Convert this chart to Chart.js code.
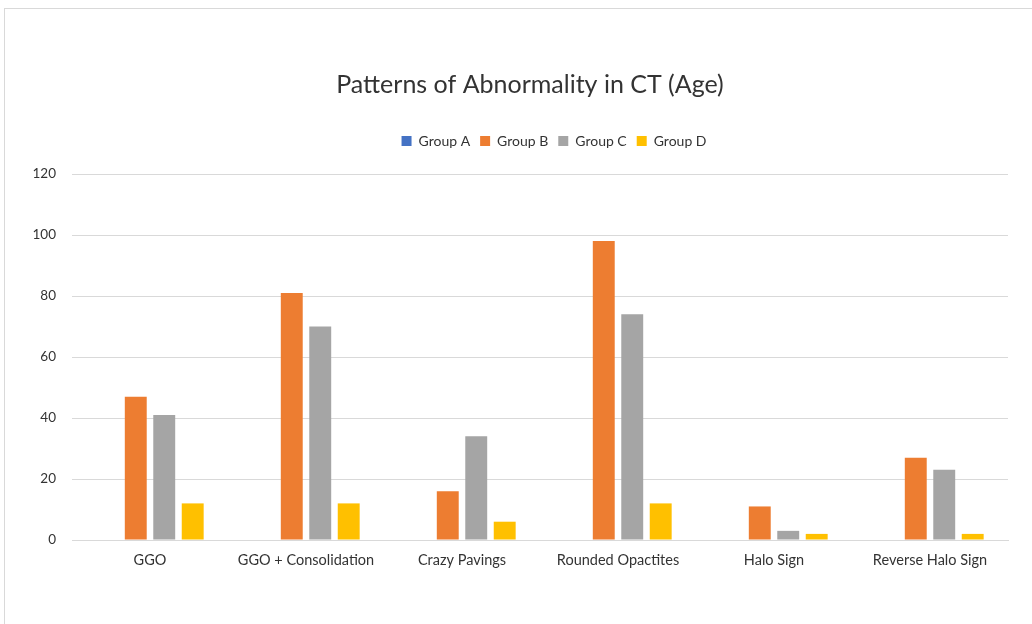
<!DOCTYPE html>
<html>
<head>
<meta charset="utf-8">
<script src="https://cdn.jsdelivr.net/npm/chart.js@4"></script>
<style>
html,body{margin:0;padding:0;background:#fff;}
#wrap{position:relative;width:1032px;height:624px;overflow:hidden;}
#frame{position:absolute;left:4px;top:8px;width:1100px;height:700px;border:1px solid #d9d9d9;box-sizing:border-box;}
canvas{position:absolute;left:0;top:0;}
</style>
</head>
<body>
<div id="wrap">
<div id="frame"></div>
<canvas id="c" width="1032" height="624"></canvas>
</div>
<script>
const categories = ["GGO", "GGO + Consolidation", "Crazy Pavings", "Rounded Opactites", "Halo Sign", "Reverse Halo Sign"];
const groupA = [0, 0, 0, 0, 0, 0];
const groupB = [47, 81, 16, 98, 11, 27];
const groupC = [41, 70, 34, 74, 3, 23];
const groupD = [12, 12, 6, 12, 2, 2];
const seriesNames = ["Group A", "Group B", "Group C", "Group D"];
const yTicks = [0, 20, 40, 60, 80, 100, 120];

const colors = ["#4472C4", "#ED7D31", "#A5A5A5", "#FFC000"];
const FONT = "Lato, 'Liberation Sans', sans-serif";

const legendSpacer = {
  id: 'legendSpacer',
  beforeInit(chart) {
    const origFit = chart.legend.fit;
    chart.legend.fit = function () {
      origFit.bind(chart.legend)();
      this.height = 50;
    };
  },
  afterLayout(chart) {
    // Office centres the title/legend slightly right of the canvas centre
    chart.titleBlock.left += 26; chart.titleBlock.right += 26;
    chart.legend.left += 50; chart.legend.right += 50;
  }
};

new Chart(document.getElementById('c'), {
  type: 'bar',
  data: {
    labels: categories,
    datasets: [groupA, groupB, groupC, groupD].map((d, i) => ({
      label: seriesNames[i],
      data: d,
      backgroundColor: colors[i],
      borderWidth: 0,
      categoryPercentage: 0.73,
      barPercentage: 0.77
    }))
  },
  options: {
    responsive: false,
    animation: false,
    devicePixelRatio: 1,
    layout: { padding: { left: 0, right: 24, top: 0, bottom: 0 } },
    plugins: {
      title: {
        display: true,
        text: "Patterns of Abnormality in CT (Age)",
        color: "#333333",
        font: { family: FONT, size: 25, weight: 'normal', lineHeight: 1.2 },
        padding: { top: 70, bottom: 24 }
      },
      legend: {
        display: true,
        labels: {
          color: "#333333",
          font: { family: FONT, size: 14 },
          boxWidth: 10,
          boxHeight: 10,
          padding: 10
        }
      },
      tooltip: { enabled: false }
    },
    scales: {
      x: {
        grid: { display: false },
        border: { display: true, color: "#d9d9d9", width: 1 },
        ticks: { color: "#333333", font: { family: FONT, size: 14.5 }, padding: 4, maxRotation: 0 },
        afterFit(scale) { scale.height = 84; }
      },
      y: {
        min: 0,
        max: 120,
        afterBuildTicks(scale) { scale.ticks = yTicks.map(v => ({ value: v })); },
        grid: { color: "#d9d9d9", lineWidth: 1, drawTicks: false },
        border: { display: false },
        ticks: { color: "#333333", font: { family: FONT, size: 13.5 }, padding: 16 },
        afterFit(scale) { scale.width = 72; }
      }
    }
  },
  plugins: [legendSpacer]
});
</script>
</body>
</html>
